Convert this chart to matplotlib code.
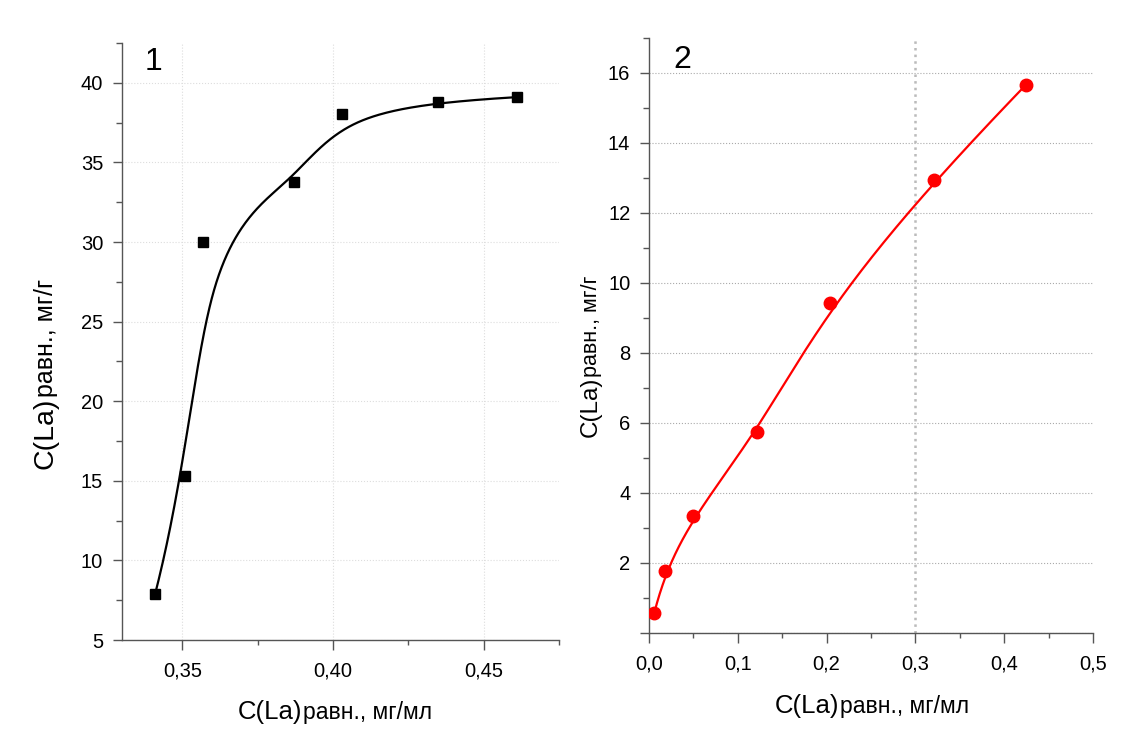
import matplotlib
matplotlib.use("Agg")
import matplotlib.pyplot as plt
import numpy as np
from matplotlib.ticker import MultipleLocator, FuncFormatter

plt.rcParams["font.family"] = ["Liberation Sans", "DejaVu Sans"]

# данные, панель 1 (квадраты)
x1 = [0.341, 0.351, 0.357, 0.387, 0.403, 0.435, 0.461]
y1 = [7.9, 15.3, 30.0, 33.75, 38.05, 38.8, 39.1]

# данные, панель 2 (кружки)
x2 = [0.006, 0.018, 0.049, 0.122, 0.204, 0.321, 0.424]
y2 = [0.58, 1.76, 3.33, 5.74, 9.43, 12.94, 15.65]

xlabel_main = "C(La)"
xlabel_rest = "равн., мг/мл"
ylabel_rest = "равн., мг/г"
panel_names = ["1", "2"]
grid_x2 = [0.3]

W, H = 1130, 755


def bspline(px, py, num=400, k=3):
    # clamped B-spline, точки = контрольные вершины (как в Origin)
    px = np.asarray(px, float)
    py = np.asarray(py, float)
    n = len(px)
    knots = np.concatenate([np.zeros(k), np.arange(n - k + 1), np.full(k, n - k)]).astype(float)
    t = np.linspace(0, n - k, num)
    t[-1] -= 1e-9
    N = np.zeros((num, len(knots) - 1))
    for i in range(len(knots) - 1):
        N[:, i] = (t >= knots[i]) & (t < knots[i + 1])
    for d in range(1, k + 1):
        Nn = np.zeros((num, len(knots) - 1 - d))
        for i in range(len(knots) - 1 - d):
            a = knots[i + d] - knots[i]
            b = knots[i + d + 1] - knots[i + 1]
            left = (t - knots[i]) / a * N[:, i] if a > 0 else 0
            right = (knots[i + d + 1] - t) / b * N[:, i + 1] if b > 0 else 0
            Nn[:, i] = left + right
        N = Nn
    return N @ px, N @ py


fig = plt.figure(figsize=(W / 100, H / 100), dpi=100)
ax1 = fig.add_axes([122 / W, 1 - 640 / H, (559 - 122) / W, (640 - 43) / H])
ax2 = fig.add_axes([649 / W, 1 - 633 / H, (1093 - 649) / W, (633 - 38) / H])

for ax in (ax1, ax2):
    ax.spines["top"].set_visible(False)
    ax.spines["right"].set_visible(False)
    for s in ("left", "bottom"):
        ax.spines[s].set_color("#555555")
        ax.spines[s].set_linewidth(1.0)
    ax.tick_params(which="both", direction="out", color="#555555", labelsize=14.5,
                   labelcolor="black")
    ax.tick_params(axis="y", which="major", length=6.5, width=1.0, pad=7)
    ax.tick_params(axis="y", which="minor", length=4, width=1.0)
    ax.tick_params(axis="x", which="major", length=7, width=1.0, pad=8.5)
    ax.tick_params(axis="x", which="minor", length=3.5, width=1.0)
    ax.set_axisbelow(True)

# панель 1
sx, sy = bspline(x1, y1)
ax1.plot(sx, sy, color="black", lw=1.6, zorder=2)
ax1.plot(x1, y1, "s", color="black", ms=7.5, zorder=3)
ax1.set_xlim(0.33, 0.475)
ax1.set_ylim(5, 42.5)
ax1.xaxis.set_major_locator(MultipleLocator(0.05))
ax1.xaxis.set_minor_locator(MultipleLocator(0.025))
ax1.yaxis.set_major_locator(MultipleLocator(5))
ax1.yaxis.set_minor_locator(MultipleLocator(2.5))
ax1.xaxis.set_major_formatter(FuncFormatter(lambda v, p: f"{v:.2f}".replace(".", ",")))
ax1.yaxis.set_major_formatter(FuncFormatter(lambda v, p: f"{v:.0f}"))
ax1.grid(True, which="major", color="#dddddd", ls=":", lw=0.8)

# панель 2
sx, sy = bspline(x2, y2)
ax2.plot(sx, sy, color="#ff0000", lw=1.6, zorder=2)
ax2.plot(x2, y2, "o", color="#ff0000", ms=9, zorder=3)
ax2.set_xlim(0, 0.5)
ax2.set_ylim(0, 17)
ax2.xaxis.set_major_locator(MultipleLocator(0.1))
ax2.xaxis.set_minor_locator(MultipleLocator(0.05))
ax2.yaxis.set_major_locator(MultipleLocator(2))
ax2.yaxis.set_minor_locator(MultipleLocator(1))
ax2.xaxis.set_major_formatter(FuncFormatter(lambda v, p: f"{v:.1f}".replace(".", ",")))
ax2.yaxis.set_major_formatter(FuncFormatter(lambda v, p: "" if v == 0 else f"{v:.0f}"))
ax2.grid(True, axis="y", which="major", color="#aaaaaa", ls=":", lw=0.8)
for gx in grid_x2:
    ax2.axvline(gx, color="#bbbbbb", ls=":", lw=1.8, zorder=0)

# номера панелей
fig.text(145 / W, 1 - 70 / H, panel_names[0], fontsize=23, ha="left", va="baseline")
fig.text(673 / W, 1 - 68 / H, panel_names[1], fontsize=23, ha="left", va="baseline")


def split_label(cx, cy, big, small, s_big, s_small, rot=0):
    # cx, cy - пиксели от верхнего левого угла; центр надписи вдоль текста, базовая линия
    kw = dict(rotation=rot, rotation_mode="anchor", ha="left", va="baseline")
    t1 = fig.text(0, 0, big, fontsize=s_big, **kw)
    t2 = fig.text(0, 0, small, fontsize=s_small, **kw)
    r = fig.canvas.get_renderer()
    b1 = t1.get_window_extent(r)
    b2 = t2.get_window_extent(r)
    if rot == 0:
        L1, L2 = b1.width, b2.width
        start = cx - (L1 + L2) / 2
        t1.set_position((start / W, 1 - cy / H))
        t2.set_position(((start + L1) / W, 1 - cy / H))
    else:
        L1, L2 = b1.height, b2.height
        start = (H - cy) - (L1 + L2) / 2
        t1.set_position((cx / W, start / H))
        t2.set_position((cx / W, (start + L1) / H))


fig.canvas.draw()
split_label(335, 719, xlabel_main, xlabel_rest, 18.5, 16.5)
split_label(872, 713, xlabel_main, xlabel_rest, 18.5, 16.5)
split_label(53, 374, xlabel_main, ylabel_rest, 20.5, 18, rot=90)
split_label(597, 356, xlabel_main, ylabel_rest, 17.5, 15.5, rot=90)

fig.savefig("out.png", dpi=100, facecolor="white")
